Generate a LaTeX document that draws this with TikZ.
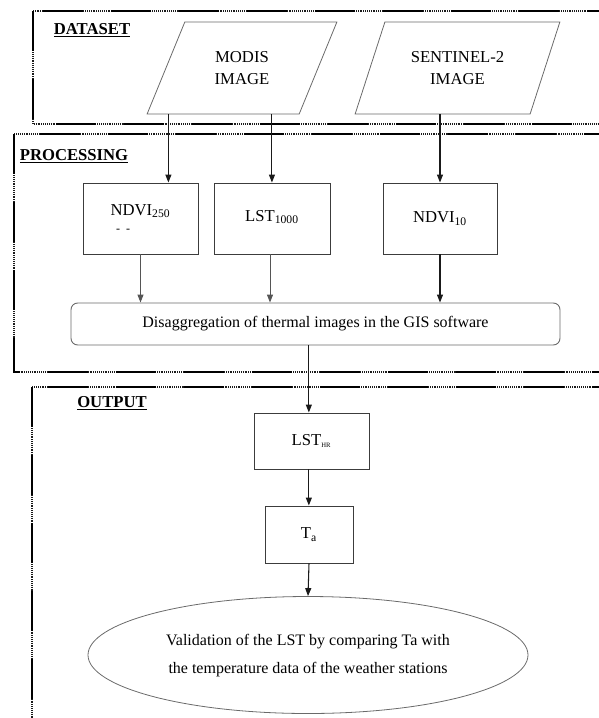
\documentclass[tikz,border=0pt]{standalone}
\usepackage{fontspec}
\setmainfont{Liberation Serif}
\usepackage{xcolor}
\usetikzlibrary{arrows.meta,positioning,shapes,calc}
\definecolor{ink}{HTML}{1A1A1A}
\definecolor{inkgray}{HTML}{555555}
\definecolor{edgegray}{HTML}{6A6A6A}
\tikzset{
  panel/.style={draw=black,line width=2.2pt,dash pattern=on 30pt off 21pt,
                preaction={draw=ink,line width=1.5pt,dash pattern=on 0.6pt off 0.8pt}},
  panellabel/.style={font=\fontsize{12.5}{14}\selectfont\bfseries,inner sep=0pt},
  databox/.style={draw=edgegray,line width=0.6pt,trapezium,trapezium stretches=true,
                  align=center,font=\fontsize{12.5}{17}\selectfont,inner sep=0pt},
  procbox/.style={draw=ink!85,line width=0.7pt,align=center,inner sep=2pt,
                  font=\fontsize{12.5}{14}\selectfont},
  roundbox/.style={draw=edgegray,line width=0.7pt,rounded corners=5pt,align=center,
                   font=\fontsize{12}{14}\selectfont},
  ovalnode/.style={draw=edgegray,line width=0.6pt,ellipse,inner sep=0pt,align=center,
                   font=\fontsize{12}{21}\selectfont},
  flowarr/.style={-{Triangle[length=6pt,width=4.5pt]},line width=0.8pt,color=ink},
  softarr/.style={-{Triangle[length=6pt,width=4.5pt]},line width=0.7pt,color=inkgray}
}

\begin{document}
\begin{tikzpicture}[x=0.75pt,y=-0.75pt]
  \useasboundingbox (0,0) rectangle (599,718);
  \clip (0,0) rectangle (599,718);

  % Panels
  \draw[panel] (33,11) rectangle (625,124);
  \draw[panel] (14,134) rectangle (625,372);
  \draw[panel] (32,387) rectangle (625,740);
  \node[panellabel] (dslabel) at (92,30) {\underline{DATASET}};
  \node[panellabel] (prlabel) at (74,156) {\underline{PROCESSING}};
  \node[panellabel] (oulabel) at (112,403) {\underline{OUTPUT}};

  % Dataset
  \node[databox,trapezium left angle=62,trapezium right angle=118,
        minimum width=142.5pt,minimum height=69pt] (modis) at (242,68) {MODIS\\IMAGE};
  \node[databox,trapezium left angle=60.5,trapezium right angle=119.5,
        minimum width=153.75pt,minimum height=69pt] (sentinel) at (457.5,68) {SENTINEL-2\\IMAGE};

  % Processing
  \node[procbox,minimum width=86.25pt,minimum height=53.25pt] (ndvi250) at (140.5,218.5)
    {NDVI\textsubscript{250}\\[-1pt]\hspace*{-26pt}{\small -\ \ -}};
  \node[procbox,minimum width=87pt,minimum height=53.25pt] (lst1000) at (272,218.5)
    {\raisebox{4pt}{LST\textsubscript{1000}}};
  \node[procbox,minimum width=85.5pt,minimum height=53.25pt] (ndvi10) at (440,218.5)
    {\raisebox{-2pt}{NDVI\textsubscript{10}}};
  \node[roundbox,minimum width=366.75pt,minimum height=31.5pt] (disagg) at (315.5,324)
    {Disaggregation of thermal images in the GIS software};

  % Output
  \node[procbox,minimum width=86.25pt,minimum height=42pt] (lsthr) at (311.5,441)
    {LST\textsubscript{\tiny HR}};
  \node[procbox,minimum width=66pt,minimum height=42.75pt] (ta) at (309,534.5)
    {T\textsubscript{a}};
  \node[ovalnode,minimum width=330pt,minimum height=87.75pt] (valid) at (308,655)
    {\mbox{}\\[-12pt]Validation of the LST by comparing Ta with\\the temperature data of the weather stations};

  % Connectors
  \coordinate (m1) at ($(modis.bottom left corner)!0.143!(modis.bottom right corner)$);
  \coordinate (m2) at ($(modis.bottom left corner)!0.82!(modis.bottom right corner)$);
  \draw[flowarr] (m1) -- (m1 |- ndvi250.north);
  \draw[flowarr] (m2) -- (m2 |- lst1000.north);
  \draw[flowarr] (ndvi10.north |- sentinel.bottom left corner) -- (ndvi10.north);
  \draw[softarr] (ndvi250.south) -- (ndvi250.south |- disagg.north);
  \draw[softarr] ([xshift=-1.5pt]lst1000.south) -- ([xshift=-1.5pt]lst1000.south |- disagg.north);
  \draw[flowarr] (ndvi10.south) -- (ndvi10.south |- disagg.north);
  \draw[flowarr] ([xshift=-2pt]lsthr.north |- disagg.south) -- ([xshift=-2pt]lsthr.north);
  \draw[flowarr] ([xshift=-2pt]lsthr.south) -- ([xshift=-2pt]lsthr.south |- ta.north);
  \draw[flowarr] (ta.south) -- (valid.north);
\end{tikzpicture}
\end{document}
